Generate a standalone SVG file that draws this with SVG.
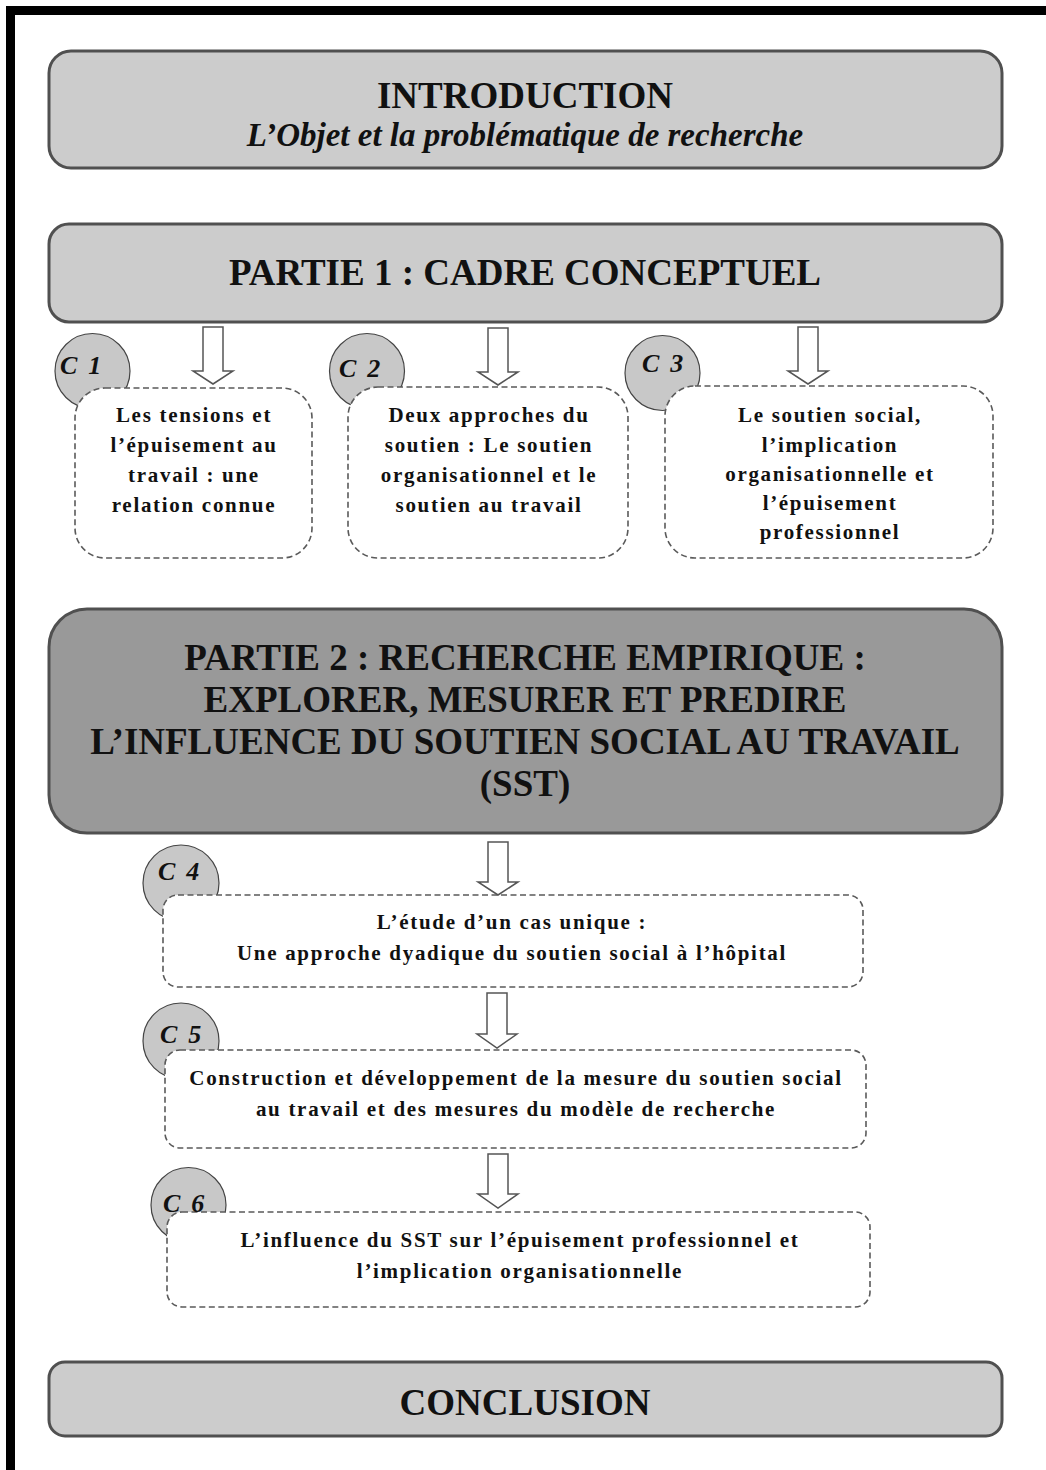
<svg xmlns="http://www.w3.org/2000/svg" width="1046" height="1470" viewBox="0 0 1046 1470">
<style>
.frame{fill:#000}
.solid{fill:#cccccc;stroke:#505050;stroke-width:3}
.dark{fill:#999999;stroke:#505050;stroke-width:3}
.dash{fill:#ffffff;stroke:#5a5a5a;stroke-width:1.6;stroke-dasharray:6 3.5}
.badge{fill:#c8c8c8;stroke:#444;stroke-width:1.2}
.arrow{fill:#ffffff;stroke:#555;stroke-width:1.5;stroke-linejoin:miter}
.head{font-family:"Liberation Serif","Times New Roman",serif;font-weight:bold;fill:#111;text-anchor:middle;font-size:37px}
.sub{font-family:"Liberation Serif","Times New Roman",serif;font-weight:bold;font-style:italic;fill:#111;text-anchor:middle}
.body{font-family:"Liberation Serif","Times New Roman",serif;font-weight:bold;fill:#111;text-anchor:middle;font-size:21px;letter-spacing:1.7px}
.lbl{font-family:"Liberation Serif","Times New Roman",serif;font-weight:bold;font-style:italic;fill:#111;font-size:26px;letter-spacing:11px}
</style>
<rect x="0" y="0" width="1046" height="1470" fill="#ffffff"/>
<rect class="frame" x="6" y="6" width="1040" height="9"/>
<rect class="frame" x="6" y="6" width="9" height="1464"/>

<g id="intro">
<rect class="solid" x="49" y="51" width="953" height="117" rx="22"/>
<text class="head" x="525" y="108">INTRODUCTION</text>
<text class="sub" x="525" y="146" font-size="33">L’Objet et la problématique de recherche</text>
</g>

<g id="partie1">
<rect class="solid" x="49" y="224" width="953" height="98" rx="20"/>
<text class="head" x="525" y="285">PARTIE 1 : CADRE CONCEPTUEL</text>
</g>

<g id="c1">
<circle class="badge" cx="92.5" cy="371" r="37.5"/>
<rect class="dash" x="75" y="388" width="237" height="170" rx="30"/>
<text class="lbl" x="60" y="374">C1</text>
<text class="body"><tspan x="194" y="422">Les tensions et</tspan><tspan x="194" y="452">l’épuisement au</tspan><tspan x="194" y="482">travail : une</tspan><tspan x="194" y="512">relation connue</tspan></text>
</g>

<g id="c2">
<circle class="badge" cx="367" cy="371" r="37.5"/>
<rect class="dash" x="348" y="387" width="280" height="171" rx="30"/>
<text class="lbl" x="339" y="377">C2</text>
<text class="body"><tspan x="489" y="422">Deux approches du</tspan><tspan x="489" y="452">soutien : Le soutien</tspan><tspan x="489" y="482">organisationnel et le</tspan><tspan x="489" y="512">soutien au travail</tspan></text>
</g>

<g id="c3">
<circle class="badge" cx="662.5" cy="373" r="37.5"/>
<rect class="dash" x="665" y="386" width="328" height="172" rx="30"/>
<text class="lbl" x="642" y="372">C3</text>
<text class="body"><tspan x="830" y="422">Le soutien social,</tspan><tspan x="830" y="452">l’implication</tspan><tspan x="830" y="481">organisationnelle et</tspan><tspan x="830" y="510">l’épuisement</tspan><tspan x="830" y="539">professionnel</tspan></text>
</g>

<g id="partie2">
<rect class="dark" x="49" y="609" width="953" height="224" rx="38"/>
<text class="head" font-size="37.5"><tspan x="525" y="670">PARTIE 2 : RECHERCHE EMPIRIQUE :</tspan><tspan x="525" y="712">EXPLORER, MESURER ET PREDIRE</tspan><tspan x="525" y="754">L’INFLUENCE DU SOUTIEN SOCIAL AU TRAVAIL</tspan><tspan x="525" y="796">(SST)</tspan></text>
</g>

<g id="c4">
<circle class="badge" cx="181" cy="883" r="38"/>
<rect class="dash" x="163" y="895" width="700" height="92" rx="15"/>
<text class="lbl" x="158" y="880">C4</text>
<text class="body"><tspan x="512" y="929">L’étude d’un cas unique :</tspan><tspan x="512" y="960">Une approche dyadique du soutien social à l’hôpital</tspan></text>
</g>

<g id="c5">
<circle class="badge" cx="181" cy="1041" r="38"/>
<rect class="dash" x="165" y="1050" width="701" height="98" rx="15"/>
<text class="lbl" x="160" y="1043">C5</text>
<text class="body"><tspan x="516" y="1085">Construction et développement de la mesure du soutien social</tspan><tspan x="516" y="1116">au travail et des mesures du modèle de recherche</tspan></text>
</g>

<g id="c6">
<circle class="badge" cx="188.5" cy="1205" r="37.5"/>
<rect class="dash" x="167" y="1212" width="703" height="95" rx="15"/>
<text class="lbl" x="163" y="1212">C6</text>
<text class="body"><tspan x="520" y="1247">L’influence du SST sur l’épuisement professionnel et</tspan><tspan x="520" y="1278">l’implication organisationnelle</tspan></text>
</g>

<g id="conclusion">
<rect class="solid" x="49" y="1362" width="953" height="74" rx="16"/>
<text class="head" x="525" y="1415">CONCLUSION</text>
</g>

<g id="connectors">
<path class="arrow" d="M203 327 H223 V371 H233 L213 384 L193 371 H203 Z"/>
<path class="arrow" d="M488 328 H508 V372 H518 L498 385 L478 372 H488 Z"/>
<path class="arrow" d="M798 327 H818 V371 H828 L808 384 L788 371 H798 Z"/>
<path class="arrow" d="M488 842 H508 V882 H518 L498 895 L478 882 H488 Z"/>
<path class="arrow" d="M487 993 H507 V1034 H517 L497 1048 L477 1034 H487 Z"/>
<path class="arrow" d="M488 1154 H508 V1194 H518 L498 1208 L478 1194 H488 Z"/>
</g>
</svg>
